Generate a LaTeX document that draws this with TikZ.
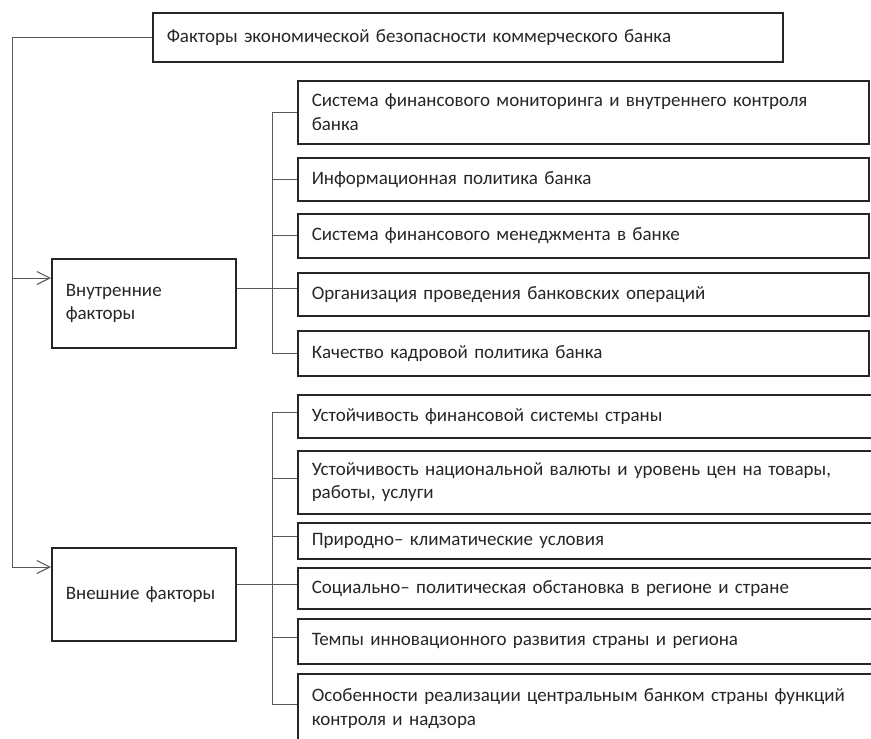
\documentclass[tikz,border=0pt]{standalone}
\usepackage{fontspec}
\setmainfont{Carlito}
\usetikzlibrary{arrows.meta,positioning}

\tikzset{
  fbox/.style={draw=black!85, line width=1.5pt, anchor=north west, align=left,
    inner xsep=14pt, inner ysep=0pt, text=black!85,
    font=\fontsize{19}{23.5}\selectfont},
  link/.style={draw=black!65, line width=1pt},
  feed/.style={link, -{Straight Barb[length=13pt,width=13pt,line width=1.1pt]}}
}

\begin{document}
\begin{tikzpicture}[x=1pt, y=-1pt]
  \useasboundingbox (0,0) rectangle (871,739);
  \clip (0,0) rectangle (871,739);

  \node[fbox, text width=602, minimum width=630, minimum height=49] (t1) at (152,12)
    {Факторы экономической безопасности коммерческого банка};

  \node[fbox, text width=156, minimum width=184, minimum height=89] (b1) at (51,258)
    {Внутренние\\ факторы};
  \node[fbox, text width=156, minimum width=184, minimum height=93] (b2) at (51,547)
    {Внешние факторы};

  % внутренние
  \node[fbox, text width=543, minimum width=571, minimum height=63] (c1) at (297,80)
    {Система финансового мониторинга и внутреннего контроля\\ банка};
  \node[fbox, text width=543, minimum width=571, minimum height=43] (c2) at (297,157)
    {Информационная политика банка};
  \node[fbox, text width=543, minimum width=571, minimum height=44] (c3) at (297,213)
    {Система финансового менеджмента в банке};
  \node[fbox, text width=543, minimum width=571, minimum height=43] (c4) at (297,272)
    {Организация проведения банковских операций};
  \node[fbox, text width=543, minimum width=571, minimum height=45] (c5) at (297,330)
    {Качество кадровой политика банка};

  % внешние
  \node[fbox, text width=562, minimum width=590, minimum height=43] (d1) at (297,394)
    {Устойчивость финансовой системы страны};
  \node[fbox, text width=562, minimum width=590, minimum height=63] (d2) at (297,450)
    {Устойчивость национальной валюты и уровень цен на товары,\\ работы, услуги};
  \node[fbox, text width=562, minimum width=590, minimum height=36] (d3) at (297,522)
    {Природно– климатические условия};
  \node[fbox, text width=562, minimum width=590, minimum height=41] (d4) at (297,567)
    {Социально– политическая обстановка в регионе и стране};
  \node[fbox, text width=562, minimum width=590, minimum height=45] (d5) at (297,618)
    {Темпы инновационного развития страны и региона};
  \node[fbox, text width=562, minimum width=590, minimum height=70] (d6) at (297,673)
    {Особенности реализации центральным банком страны функций\\ контроля и надзора};

  \coordinate (k) at (12,0);
  \coordinate (r) at (272,0);
  \coordinate (p1) at ([yshift=-20pt]b1.north west);
  \coordinate (p2) at ([yshift=-20pt]b2.north west);

  \draw[feed] (t1.west) -| (k |- p2) -- (p2);
  \draw[feed] (k |- p1) -- (p1);

  \draw[link] ([yshift=15pt]b1.east) -- ([yshift=15pt]b1.east -| c4.west);
  \draw[link] (r |- c1.west) -- (r |- c5.west);
  \draw[link] (r |- c1.west) -- (c1.west);
  \draw[link] (r |- c2.west) -- (c2.west);
  \draw[link] (r |- c3.west) -- (c3.west);
  \draw[link] (r |- c5.west) -- (c5.west);

  \draw[link] ([yshift=10pt]b2.east) -- ([yshift=10pt]b2.east -| d4.west);
  \draw[link] ([yshift=4pt]r |- d1.west) -- ([yshift=4pt]r |- d6.west);
  \draw[link] ([yshift=4pt]r |- d1.west) -- ([yshift=4pt]d1.west);
  \draw[link] ([yshift=4pt]r |- d2.west) -- ([yshift=4pt]d2.west);
  \draw[link] ([yshift=4pt]r |- d3.west) -- ([yshift=4pt]d3.west);
  \draw[link] ([yshift=4pt]r |- d5.west) -- ([yshift=4pt]d5.west);
  \draw[link] ([yshift=4pt]r |- d6.west) -- ([yshift=4pt]d6.west);
\end{tikzpicture}
\end{document}
